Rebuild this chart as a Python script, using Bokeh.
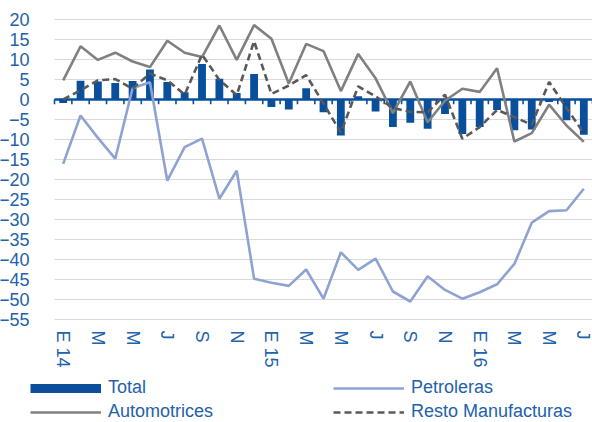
import numpy as np
from bokeh.plotting import figure
from bokeh.models import FixedTicker, Legend, LegendItem, Range1d
from bokeh.embed import file_html
from bokeh.resources import INLINE

# Monthly data, Jan 2014 (E 14) .. Jul 2016
tick_labels = ["E 14", "M", "M", "J", "S", "N", "E 15", "M", "M", "J", "S", "N", "E 16", "M", "M", "J"]
total = [-0.9, 4.7, 4.5, 4.1, 4.6, 7.5, 4.4, 1.8, 8.9, 5.2, 1.6, 6.4, -1.9, -2.5, 2.8, -3.2,
         -9.0, 0.8, -3.0, -6.9, -5.8, -7.3, -3.6, -8.6, -6.9, -2.6, -7.7, -7.5, -0.6, -5.2, -8.8]
petroleras = [-16.1, -4.0, -9.6, -14.8, 2.8, 4.3, -20.3, -11.9, -9.8, -24.8, -17.8, -44.8, -45.8,
              -46.6, -42.5, -49.8, -38.2, -42.6, -39.8, -48.0, -50.5, -44.2, -47.6, -49.8, -48.2,
              -46.2, -41.1, -30.8, -27.9, -27.7, -22.3]
automotrices = [4.8, 13.3, 9.9, 11.7, 9.5, 8.1, 14.7, 11.7, 10.6, 18.5, 9.9, 18.6, 15.2, 4.0, 13.9,
                12.1, 2.1, 11.4, 5.3, -3.4, 4.5, -5.7, -0.3, 2.7, 1.9, 7.8, -10.5, -8.4, -1.3, -6.5, -10.6]
resto = [0.0, 2.3, 4.8, 5.1, 2.7, 6.5, 4.8, 1.2, 11.2, 4.9, 1.1, 14.6, 1.4, 3.5, 6.1, -1.0, -8.3,
         3.3, 0.8, -2.1, -3.1, -3.2, 1.2, -9.8, -6.9, -2.6, -4.4, -6.3, 4.4, -2.1, -8.4]
series_names = ["Total", "Petroleras", "Automotrices", "Resto Manufacturas"]
y_min, y_max, y_step = -55, 20, 5

BAR = "#0a4f9c"
TXT = "#2361aa"
PET = "#8fa3d3"
AUT = "#808080"
RES = "#595959"
FONT = "Liberation Sans"

W, H = 592, 422
PLOT_LEFT, PLOT_TOP, PLOT_BOTTOM = 54, 19, 319   # pixel box of the data area

n = len(total)
x = np.arange(n)
x_lo, x_hi = -0.5, n - 0.5
px_x = (W - PLOT_LEFT) / (x_hi - x_lo)
px_y = (PLOT_BOTTOM - PLOT_TOP) / (y_max - y_min)
x_start = x_lo - PLOT_LEFT / px_x
y_range_low = y_min - (H - PLOT_BOTTOM) / px_y
y_range_high = y_max + PLOT_TOP / px_y

p = figure(width=W, height=H, output_backend="svg", toolbar_location=None,
           x_range=Range1d(x_start, x_hi), y_range=Range1d(y_range_low, y_range_high),
           min_border_left=0, min_border_right=0, min_border_top=0, min_border_bottom=0)
p.outline_line_color = None
p.background_fill_color = "white"
p.xgrid.visible = False
p.ygrid.visible = False

# horizontal grid lines across the data area
yticks = list(range(y_min, y_max + 1, y_step))
p.segment(x0=np.full(len(yticks), x_lo), x1=np.full(len(yticks), x_hi), y0=yticks, y1=yticks,
          line_color="#d9d9d9", line_width=1)

# zero axis line with category separators
edges = np.arange(n + 1) - 0.5
p.segment(x0=[x_lo], x1=[x_hi], y0=[0], y1=[0], line_color=BAR, line_width=2.5)
p.segment(x0=edges, y0=np.zeros(n + 1), x1=edges, y1=np.full(n + 1, -1.2),
          line_color=BAR, line_width=1.6)

p.vbar(x=x, top=total, width=0.45, fill_color=BAR, line_color=None)
r_pet = p.line(x, petroleras, line_color=PET, line_width=2.6)
r_aut = p.line(x, automotrices, line_color=AUT, line_width=2.6)
r_res = p.line(x, resto, line_color=RES, line_width=2.6, line_dash="7 4")
# legend proxy for the bars (a thick bar-coloured stroke, no visible data)
r_tot = p.line(x=[0], y=[np.nan], line_color=BAR, line_width=9)

# axes drawn at fixed data locations
p.yaxis.fixed_location = x_lo
p.yaxis.ticker = FixedTicker(ticks=yticks)
p.yaxis.axis_line_color = None
p.yaxis.major_tick_line_color = None
p.yaxis.minor_tick_line_color = None
p.yaxis.major_label_standoff = 19
p.yaxis.major_label_text_font = FONT
p.yaxis.major_label_text_font_size = "18px"
p.yaxis.major_label_text_color = TXT

xt = list(range(0, n, 2))
p.xaxis.fixed_location = y_min
p.xaxis.ticker = FixedTicker(ticks=xt)
p.xaxis.major_label_overrides = {t: lab for t, lab in zip(xt, tick_labels)}
p.xaxis.major_label_orientation = "vertical"
p.xaxis.axis_line_color = None
p.xaxis.major_tick_line_color = None
p.xaxis.minor_tick_line_color = None
p.xaxis.major_label_standoff = 5
p.xaxis.major_label_text_font = FONT
p.xaxis.major_label_text_font_size = "18px"
p.xaxis.major_label_text_color = TXT

legend = Legend(items=[
    LegendItem(label=series_names[0], renderers=[r_tot]),
    LegendItem(label=series_names[1], renderers=[r_pet]),
    LegendItem(label=series_names[2], renderers=[r_aut]),
    LegendItem(label=series_names[3], renderers=[r_res]),
], orientation="horizontal", ncols=2, location=(30, 0))
legend.padding = 0
legend.margin = 0
legend.spacing = 3
legend.border_line_color = None
legend.background_fill_alpha = 0
legend.glyph_width = 71
legend.glyph_height = 20
legend.label_height = 20
legend.label_width = 222
legend.label_standoff = 7
legend.label_text_font = FONT
legend.label_text_font_size = "18px"
legend.label_text_color = TXT
p.add_layout(legend, "center")

open("out.html", "w").write(file_html(p, INLINE))
